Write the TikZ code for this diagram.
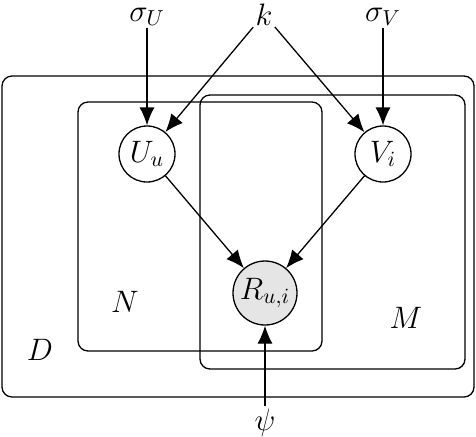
\RequirePackage{fix-cm}
\documentclass[tikz,border=0pt]{standalone}
\usetikzlibrary{arrows.meta}
\begin{document}
\begin{tikzpicture}[x=0.5pt,y=-0.5pt,
  every node/.style={font=\fontsize{15.5}{18}\selectfont},
  var/.style={circle,draw,line width=0.65pt,minimum size=28pt,inner sep=0pt},
  obs/.style={var,fill=gray!20,minimum size=32pt},
  plate/.style={draw,line width=0.65pt,rounded corners=5pt},
  edge/.style={line width=0.65pt,-{Latex[length=9pt,width=7.5pt]}},
  lbl/.style={inner sep=1pt,anchor=base}]
\useasboundingbox (0,0) rectangle (476,436);
\draw[plate] (2,76) rectangle (474,397);
\draw[plate] (78,102) rectangle (322,351);
\draw[plate] (200,95) rectangle (465,369);
\node[var] (U) at (147,154) {$U_u$};
\node[var] (V) at (383,154) {$V_i$};
\node[obs] (R) at (265,293) {$R_{u,i}$};
\node[lbl] (sU) at (147,21) {$\sigma_U$};
\node[lbl] (k) at (264,25) {$k$};
\node[lbl] (sV) at (383,21) {$\sigma_V$};
\node[lbl] (psi) at (265,430) {$\psi$};
\node (N) at (125,302) {$N$};
\node (M) at (406,318) {$M$};
\node (D) at (40,350) {$D$};
\draw[edge] (sU) -- (U);
\draw[edge] (sV) -- (V);
\draw[edge] (k) -- (U);
\draw[edge] (k) -- (V);
\draw[edge] (U) -- (R);
\draw[edge] (V) -- (R);
\draw[edge] (psi) -- (R);
\end{tikzpicture}
\end{document}
